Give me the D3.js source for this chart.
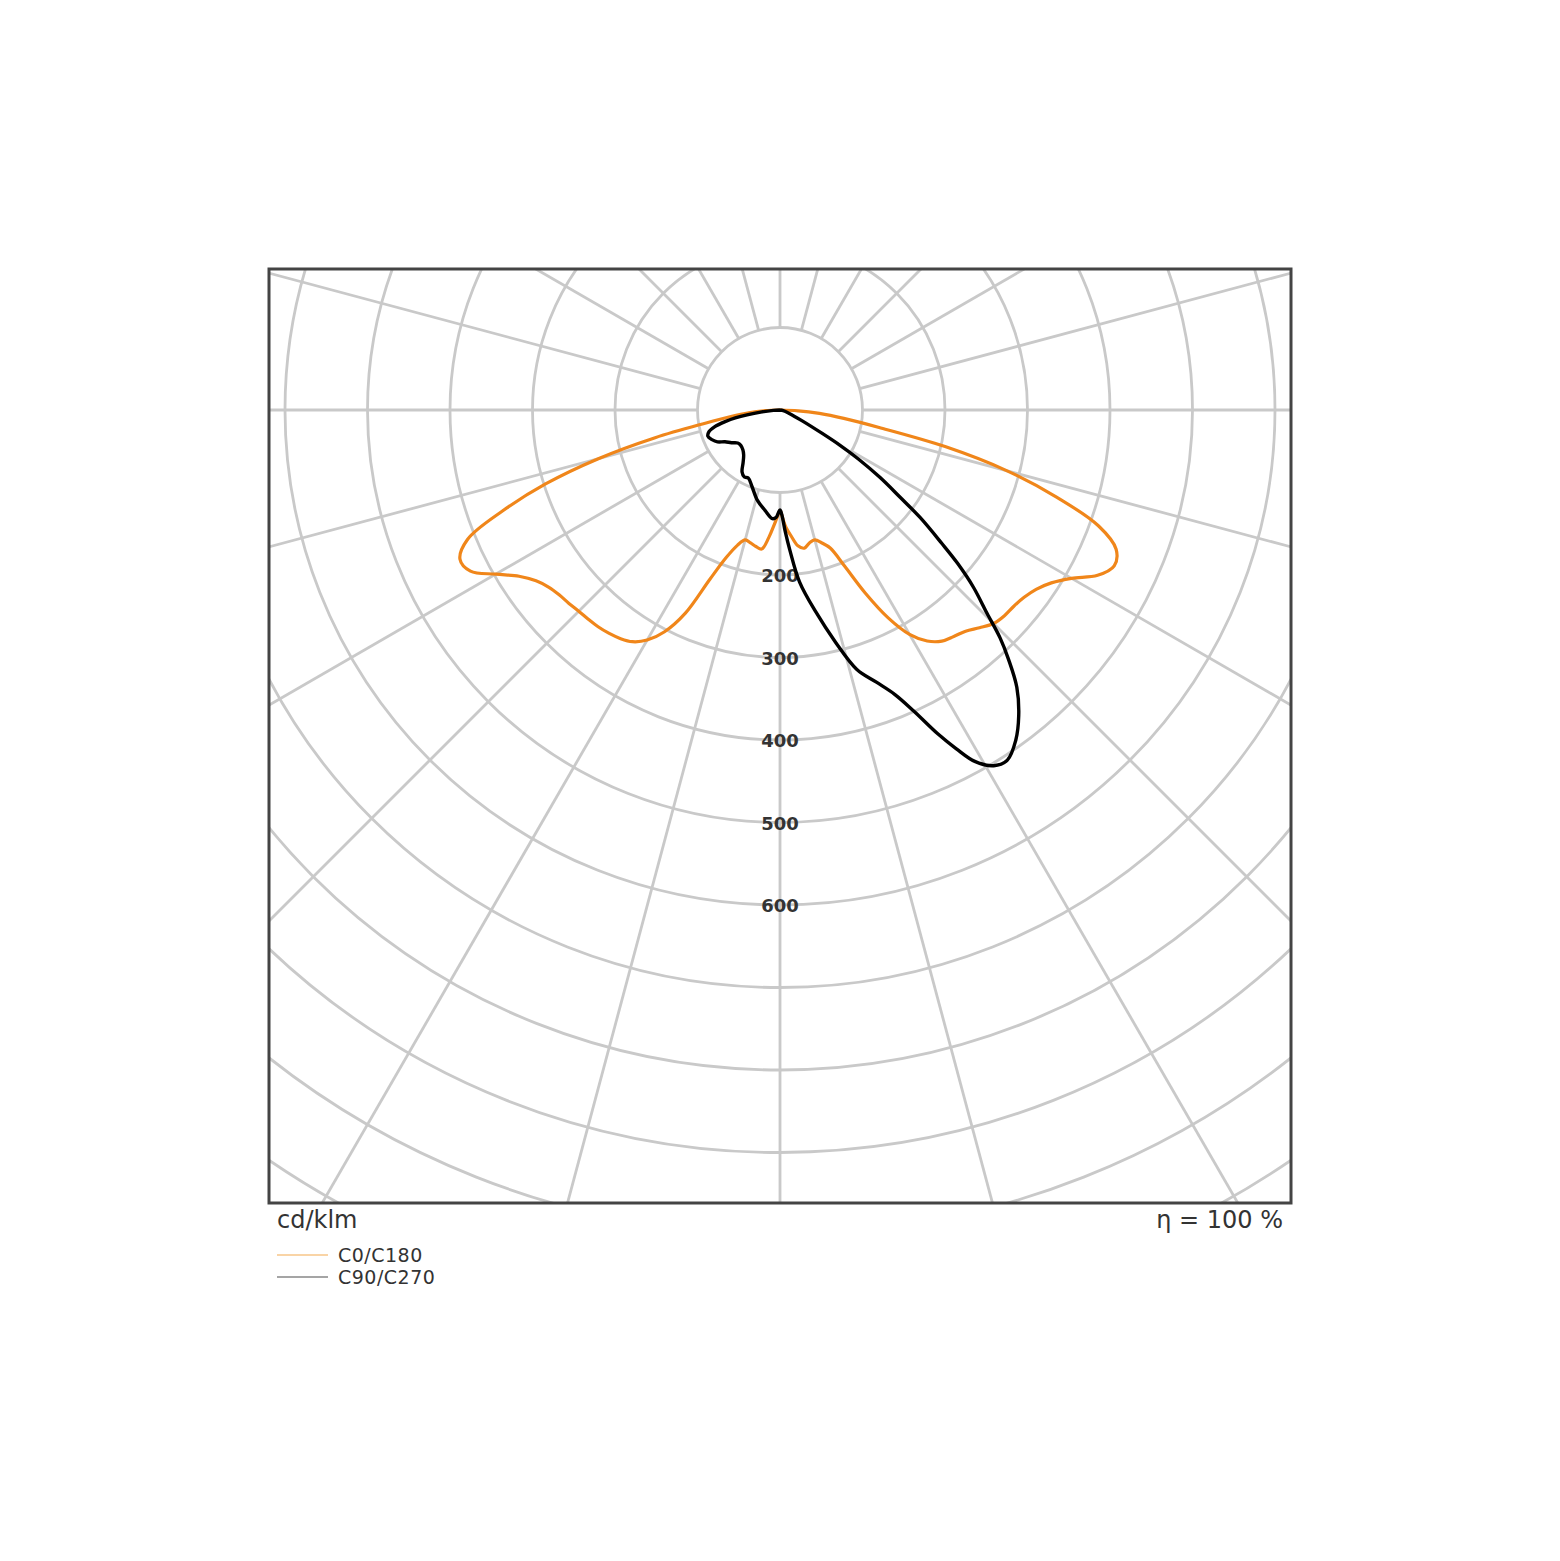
<!DOCTYPE html>
<html>
<head>
<meta charset="utf-8">
<script src="https://cdn.jsdelivr.net/npm/d3@7/dist/d3.min.js"></script>
<style>
  html, body { margin: 0; padding: 0; background: #ffffff; }
  svg { display: block; }
  text { font-family: "DejaVu Sans", sans-serif; }
</style>
</head>
<body>
<script>
// ---------- data (cd/klm) ----------
const ringTickLabels = [200, 300, 400, 500, 600];
const ringValues = [100, 200, 300, 400, 500, 600, 700, 800, 900, 1000, 1100, 1200, 1300, 1400];
const spokeAngles = d3.range(0, 360, 15);

// C0 / C180 plane (orange), gamma in degrees from nadir
const c0Gamma   = [0, 1.5, 3, 5, 7.5, 10, 12.5, 15, 17.5, 20, 22.5, 25, 27.5, 30, 32.5, 35, 37.5, 40, 42.5, 45, 47.5, 50, 52.5, 55, 57.5, 60, 62.5, 65, 67.5, 70, 72.5, 75, 77.5, 80, 82.5, 85, 87.5, 90];
const c0Values  = [122, 132, 143, 153, 166, 170, 165, 163, 169, 178, 205, 245, 284, 314, 332, 342, 346, 350, 358, 366, 369, 370, 373, 379, 390, 408, 434, 447, 441, 411, 352, 285, 205, 122, 78, 48, 22, 0];
const c180Gamma = [0, 1.5, 3, 5, 7.5, 10, 12.5, 15, 17.5, 20, 22.5, 25, 27.5, 30, 32.5, 35, 37.5, 40, 42.5, 45, 47.5, 50, 52.5, 55, 57.5, 60, 62.5, 65, 67.5, 70, 72.5, 75, 77.5, 80, 82.5, 85, 87.5, 90];
const c180Values = [122, 130, 140, 155, 170, 168, 165, 163, 172, 190, 222, 272, 303, 322, 333, 338, 341, 343, 344, 345, 347, 349, 353, 361, 375, 398, 423, 428, 410, 358, 298, 228, 155, 92, 60, 38, 18, 0];

// C90 / C270 plane (black)
const c90Gamma  = [0, 1, 2.5, 4, 6.5, 10, 13.5, 16.5, 19.5, 22, 24, 26, 27.5, 29, 31, 33, 35.5, 38, 40.5, 42.5, 44, 45.5, 47.5, 49.2, 50.5, 52.5, 54, 56, 58, 59.5, 61, 64, 70, 80, 90];
const c90Values = [121, 127, 148, 170, 210, 248, 290, 328, 350, 372, 400, 437, 463, 487, 503, 506, 492, 470, 442, 410, 384, 352, 318, 284, 254, 214, 180, 146, 112, 85, 58, 30, 12, 4, 0];
const c270Gamma  = [0, 2, 4, 8.5, 14, 20, 25, 28, 31.5, 35, 39, 43, 48, 52, 56, 60, 63, 66.5, 70, 73, 75.5, 78, 80, 84, 87, 90];
const c270Values = [121, 130, 132, 123, 113, 99, 91, 92, 88, 78, 70, 66, 64, 65, 71, 77, 85, 90, 93, 90, 82, 68, 55, 22, 8, 0];

const seriesNames = ["C0/C180", "C90/C270"];

// ---------- layout ----------
const W = 1560, H = 1561;
const box = { x0: 269, y0: 269, x1: 1291, y1: 1203 };
const cx = 780, cy = 410;
const pxPer100 = 82.5;

const r = d3.scaleLinear().domain([0, 100]).range([0, pxPer100]);

const svg = d3.select("body").append("svg").attr("width", W).attr("height", H);

svg.append("defs").append("clipPath").attr("id", "plotclip")
  .append("rect").attr("x", box.x0).attr("y", box.y0)
  .attr("width", box.x1 - box.x0).attr("height", box.y1 - box.y0);

const plot = svg.append("g").attr("clip-path", "url(#plotclip)");
const g = plot.append("g").attr("transform", `translate(${cx},${cy})`);

// rings
g.selectAll("circle.ring").data(ringValues).join("circle")
  .attr("class", "ring").attr("r", d => r(d))
  .attr("fill", "none").attr("stroke", "#c9c9c9").attr("stroke-width", 2.8);

// spokes
g.selectAll("line.spoke").data(spokeAngles).join("line")
  .attr("class", "spoke")
  .attr("x1", d => r(100) * Math.sin(d * Math.PI / 180))
  .attr("y1", d => r(100) * Math.cos(d * Math.PI / 180))
  .attr("x2", d => r(1500) * Math.sin(d * Math.PI / 180))
  .attr("y2", d => r(1500) * Math.cos(d * Math.PI / 180))
  .attr("stroke", "#c9c9c9").attr("stroke-width", 2.8);

// ring labels
g.selectAll("text.rlab").data(ringTickLabels).join("text")
  .attr("class", "rlab").attr("x", 0).attr("y", d => r(d) + 2)
  .attr("text-anchor", "middle").attr("dominant-baseline", "middle")
  .attr("font-size", 18).attr("font-weight", "bold").attr("fill", "#333").text(d => d);

// curves
function buildPoints(leftG, leftV, rightG, rightV) {
  const pts = [];
  for (let i = leftG.length - 1; i >= 0; i--) pts.push({ theta: -leftG[i], v: leftV[i] });
  for (let i = 1; i < rightG.length; i++) pts.push({ theta: rightG[i], v: rightV[i] });
  return pts;
}
const radial = d3.lineRadial()
  .angle(d => Math.PI - d.theta * Math.PI / 180)
  .radius(d => r(d.v))
  .curve(d3.curveCatmullRom.alpha(0.5));

const orangePts = buildPoints(c180Gamma, c180Values, c0Gamma, c0Values);
const blackPts = buildPoints(c270Gamma, c270Values, c90Gamma, c90Values);

g.append("path").attr("d", radial(orangePts))
  .attr("fill", "none").attr("stroke", "#f0861a").attr("stroke-width", 3.2)
  .attr("stroke-linejoin", "round");
g.append("path").attr("d", radial(blackPts))
  .attr("fill", "none").attr("stroke", "#000").attr("stroke-width", 3.4)
  .attr("stroke-linejoin", "round");

// frame
svg.append("rect").attr("x", box.x0).attr("y", box.y0)
  .attr("width", box.x1 - box.x0).attr("height", box.y1 - box.y0)
  .attr("fill", "none").attr("stroke", "#444").attr("stroke-width", 3);

// bottom texts
svg.append("text").attr("x", 277).attr("y", 1228)
  .attr("font-size", 24).attr("fill", "#333").text("cd/klm");
svg.append("text").attr("x", 1283).attr("y", 1228).attr("text-anchor", "end")
  .attr("font-size", 24).attr("fill", "#333").text("η = 100 %");

// legend
const legendColors = ["#f9d4a6", "#a5a5a5"];
const leg = svg.append("g");
seriesNames.forEach((name, i) => {
  const y = 1255 + i * 22;
  leg.append("line").attr("x1", 277).attr("x2", 328).attr("y1", y).attr("y2", y)
    .attr("stroke", legendColors[i]).attr("stroke-width", 2);
  leg.append("text").attr("x", 338).attr("y", y + 7)
    .attr("font-size", 19).attr("letter-spacing", 0.5).attr("fill", "#333").text(name);
});
</script>
</body>
</html>
